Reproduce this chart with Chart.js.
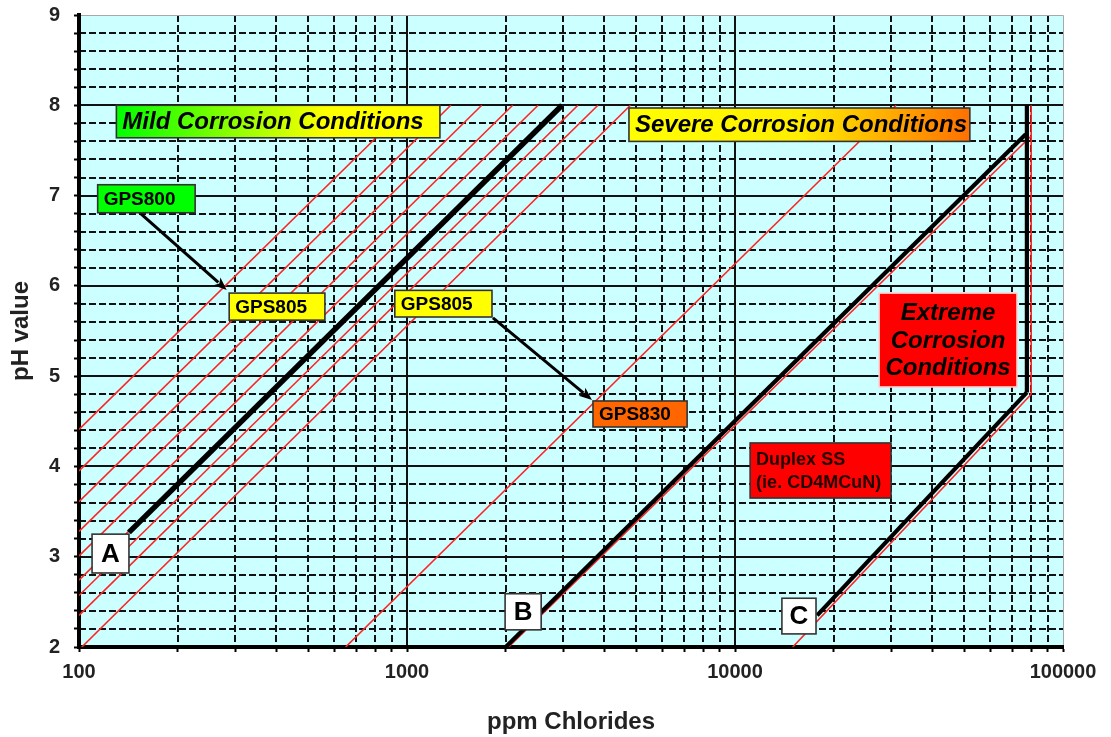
<!DOCTYPE html>
<html>
<head>
<meta charset="utf-8">
<script src="https://cdn.jsdelivr.net/npm/chart.js@4.4.1/dist/chart.umd.min.js"></script>
<style>
  html, body { margin: 0; padding: 0; background: #fff; }
  #wrap { width: 1111px; height: 737px; position: relative; }
</style>
</head>
<body>
<div id="wrap"><canvas id="phChart"></canvas></div>
<script>
// tick positions / labels
const xTicks = [100, 200, 300, 400, 500, 600, 700, 800, 900,
  1000, 2000, 3000, 4000, 5000, 6000, 7000, 8000, 9000,
  10000, 20000, 30000, 40000, 50000, 60000, 70000, 80000, 90000, 100000];
const xLabels = ['100', '1000', '10000', '100000'];
const yTicks = [2, 2.2, 2.4, 2.6, 2.8, 3, 3.2, 3.4, 3.6, 3.8, 4, 4.2, 4.4, 4.6, 4.8,
  5, 5.2, 5.4, 5.6, 5.8, 6, 6.2, 6.4, 6.6, 6.8, 7, 7.2, 7.4, 7.6, 7.8,
  8, 8.2, 8.4, 8.6, 8.8, 9];
const yLabels = ['2', '3', '4', '5', '6', '7', '8', '9'];

// thin red lines, [ppm, pH] start -> end
const redLines = [
  [[100, 4.41], [1015, 8]],
  [[100, 3.95], [1360, 8]],
  [[100, 3.61], [1690, 8]],
  [[100, 3.28], [2100, 8]],
  [[100, 3.01], [2510, 8]],
  [[100, 2.74], [2970, 8]],
  [[100, 2.57], [3320, 8]],
  [[100, 2.35], [3820, 8]],
  [[102, 2.0], [4800, 8]],
  [[650, 2.0], [31000, 8]],
  [[2040, 2.0], [80000, 7.66]],
  [[80000, 8.0], [80000, 4.8]],
  [[80000, 4.8], [15000, 2.0]]
];

// heavy black limit lines
const lineA = [[142, 3.27], [2970, 8]];
const lineB = [[2000, 2.0], [77000, 7.68]];
const lineEdge = [[77600, 8.0], [77600, 4.82]];
const lineC = [[77600, 4.82], [17800, 2.35]];

const FONT = '"Liberation Sans", Arial, sans-serif';

// labelled boxes, corners in [ppm, pH]
const boxes = [
  { text: ['Mild Corrosion Conditions'], x0: 130, x1: 1260, y0: 8.0, y1: 7.64,
    grad: [[0, '#00ff00'], [0.65, '#ffff00'], [1, '#ffff00']], font: 'italic bold 24px', align: 'left' },
  { text: ['Severe Corrosion Conditions'], x0: 4750, x1: 52000, y0: 7.97, y1: 7.6,
    grad: [[0, '#ffff00'], [0.5, '#ffee00'], [1, '#ff7000']], font: 'italic bold 24px', align: 'left' },
  { text: ['GPS800'], x0: 114, x1: 226, y0: 7.12, y1: 6.81, fill: '#00ff00', font: 'bold 19px', align: 'left' },
  { text: ['GPS805'], x0: 287, x1: 562, y0: 5.92, y1: 5.62, fill: '#ffff00', font: 'bold 19px', align: 'left' },
  { text: ['GPS805'], x0: 918, x1: 1816, y0: 5.95, y1: 5.655, fill: '#ffff00', font: 'bold 19px', align: 'left' },
  { text: ['GPS830'], x0: 3690, x1: 7145, y0: 4.725, y1: 4.437, fill: '#ff6600', font: 'bold 19px', align: 'left' },
  { text: ['Extreme', 'Corrosion', 'Conditions'], x0: 27500, x1: 72400, y0: 5.92, y1: 4.88,
    fill: '#ff0000', stroke: '#ffd0d0', font: 'italic bold 24px', align: 'center', lh: 27.5 },
  { text: ['Duplex SS', '(ie. CD4MCuN)'], x0: 11120, x1: 29900, y0: 4.26, y1: 3.65,
    fill: '#ff0000', font: 'bold 18px', align: 'left', lh: 23, color: '#200' },
  { text: ['A'], x0: 109.6, x1: 142, y0: 3.25, y1: 2.82, fill: '#ffffff', font: 'bold 26px', align: 'center' },
  { text: ['B'], x0: 1991, x1: 2565, y0: 2.59, y1: 2.19, fill: '#ffffff', font: 'bold 26px', align: 'center' },
  { text: ['C'], x0: 13900, x1: 17660, y0: 2.54, y1: 2.145, fill: '#ffffff', font: 'bold 26px', align: 'center' }
];

const arrows = [
  { from: [153, 6.81], to: [282, 5.955] },
  { from: [1828, 5.645], to: [3665, 4.736] }
];

const pts = arr => arr.map(p => ({ x: p[0], y: p[1] }));

const datasets = [];
[lineA, lineB, lineEdge, lineC].forEach((l, i) => {
  datasets.push({ data: pts(l), showLine: true, borderColor: '#000', borderWidth: i === 0 ? 5.5 : 4.2,
    pointRadius: 0, fill: false, order: 0, borderCapStyle: 'butt' });
});
redLines.forEach(l => {
  datasets.push({ data: pts(l), showLine: true, borderColor: '#ff2424', borderWidth: 1.6,
    pointRadius: 0, fill: false, order: 1 });
});

const gridPlugin = {
  id: 'gridPlugin',
  beforeDraw(chart) {
    const { ctx, chartArea: a, scales: { x, y } } = chart;
    ctx.save();
    ctx.fillStyle = '#ccffff';
    ctx.fillRect(a.left, a.top, a.right - a.left, a.bottom - a.top);

    ctx.strokeStyle = '#111';
    ctx.lineWidth = 2;
    ctx.setLineDash([7, 3]);
    ctx.beginPath();
    yTicks.forEach(v => {
      if (Number.isInteger(v)) return;
      const py = Math.round(y.getPixelForValue(v));
      ctx.moveTo(a.left, py); ctx.lineTo(a.right, py);
    });
    xTicks.forEach(v => {
      if (xLabels.includes(String(v))) return;
      const px = Math.round(x.getPixelForValue(v));
      ctx.moveTo(px, a.top); ctx.lineTo(px, a.bottom);
    });
    ctx.stroke();

    ctx.setLineDash([]);
    ctx.lineWidth = 2;
    ctx.beginPath();
    yTicks.forEach(v => {
      if (!Number.isInteger(v) || v === 2 || v === 9) return;
      const py = Math.round(y.getPixelForValue(v));
      ctx.moveTo(a.left, py); ctx.lineTo(a.right, py);
    });
    [1000, 10000].forEach(v => {
      const px = Math.round(x.getPixelForValue(v));
      ctx.moveTo(px, a.top); ctx.lineTo(px, a.bottom);
    });
    ctx.stroke();

    ctx.strokeStyle = '#a8a8a8';
    ctx.lineWidth = 1;
    ctx.beginPath();
    ctx.moveTo(a.left, a.top + 0.5); ctx.lineTo(a.right + 0.5, a.top + 0.5); ctx.lineTo(a.right + 0.5, a.bottom);
    ctx.stroke();
    ctx.restore();
  }
};

const labelPlugin = {
  id: 'labelPlugin',
  afterDatasetsDraw(chart) {
    const { ctx, scales: { x, y } } = chart;
    ctx.save();

    // arrows
    arrows.forEach(ar => {
      const x0 = x.getPixelForValue(ar.from[0]), y0 = y.getPixelForValue(ar.from[1]);
      const x1 = x.getPixelForValue(ar.to[0]), y1 = y.getPixelForValue(ar.to[1]);
      const ang = Math.atan2(y1 - y0, x1 - x0);
      const head = 14;
      ctx.strokeStyle = '#000';
      ctx.fillStyle = '#000';
      ctx.lineWidth = 3;
      ctx.beginPath();
      ctx.moveTo(x0, y0);
      ctx.lineTo(x1 - Math.cos(ang) * head * 0.8, y1 - Math.sin(ang) * head * 0.8);
      ctx.stroke();
      ctx.beginPath();
      ctx.moveTo(x1, y1);
      ctx.lineTo(x1 - head * Math.cos(ang - 0.38), y1 - head * Math.sin(ang - 0.38));
      ctx.lineTo(x1 - head * 0.7 * Math.cos(ang), y1 - head * 0.7 * Math.sin(ang));
      ctx.lineTo(x1 - head * Math.cos(ang + 0.38), y1 - head * Math.sin(ang + 0.38));
      ctx.closePath();
      ctx.fill();
    });

    // boxes
    boxes.forEach(b => {
      const l = x.getPixelForValue(b.x0), r = x.getPixelForValue(b.x1);
      const t = y.getPixelForValue(b.y0), btm = y.getPixelForValue(b.y1);
      if (b.grad) {
        const g = ctx.createLinearGradient(l, 0, r, 0);
        b.grad.forEach(s => g.addColorStop(s[0], s[1]));
        ctx.fillStyle = g;
      } else {
        ctx.fillStyle = b.fill;
      }
      ctx.fillRect(l, t, r - l, btm - t);
      ctx.strokeStyle = b.stroke || '#333';
      ctx.lineWidth = 1.6;
      ctx.strokeRect(l, t, r - l, btm - t);

      ctx.fillStyle = b.color || '#000';
      ctx.font = b.font + ' ' + FONT;
      ctx.textBaseline = 'middle';
      ctx.textAlign = b.align;
      const lh = b.lh || 0;
      const cy = (t + btm) / 2 - lh * (b.text.length - 1) / 2;
      const tx = b.align === 'center' ? (l + r) / 2 : l + 6;
      b.text.forEach((s, i) => ctx.fillText(s, tx, cy + i * lh + 1));
    });
    ctx.restore();
  }
};

new Chart(document.getElementById('phChart'), {
  type: 'scatter',
  data: { datasets: datasets },
  options: {
    responsive: true,
    maintainAspectRatio: false,
    animation: false,
    layout: { padding: { top: 15, right: 48, left: 0, bottom: 0 } },
    plugins: { legend: { display: false }, tooltip: { enabled: false } },
    scales: {
      x: {
        type: 'logarithmic',
        min: 100,
        max: 100000,
        afterBuildTicks: s => { s.ticks = xTicks.map(v => ({ value: v })); },
        afterFit: s => { s.height = 90; },
        ticks: {
          autoSkip: false,
          maxRotation: 0,
          padding: 8,
          color: '#222',
          font: { family: FONT, size: 20, weight: 'bold' },
          callback: v => (xLabels.includes(String(v)) ? String(v) : '')
        },
        grid: { drawOnChartArea: false, drawTicks: true, tickLength: 5, tickWidth: 2, tickColor: '#000' },
        border: { display: true, color: '#000', width: 4 },
        title: {
          display: true,
          text: 'ppm Chlorides',
          color: '#222',
          font: { family: FONT, size: 24, weight: 'bold' },
          padding: { top: 0, bottom: 0 }
        }
      },
      y: {
        type: 'linear',
        min: 2,
        max: 9,
        afterBuildTicks: s => { s.ticks = yTicks.map(v => ({ value: v })); },
        afterFit: s => { s.width = 79; s.paddingTop = 0; s.paddingBottom = 0; },
        ticks: {
          autoSkip: false,
          padding: 14,
          color: '#222',
          font: { family: FONT, size: 20, weight: 'bold' },
          callback: v => (yLabels.includes(String(v)) ? String(v) : '')
        },
        grid: { drawOnChartArea: false, drawTicks: true, tickLength: 5, tickWidth: 2, tickColor: '#000' },
        border: { display: true, color: '#000', width: 4 },
        title: {
          display: true,
          text: 'pH value',
          color: '#222',
          font: { family: FONT, size: 24, weight: 'bold' },
          padding: { top: 7, bottom: 0 }
        }
      }
    }
  },
  plugins: [gridPlugin, labelPlugin]
});
</script>
</body>
</html>
